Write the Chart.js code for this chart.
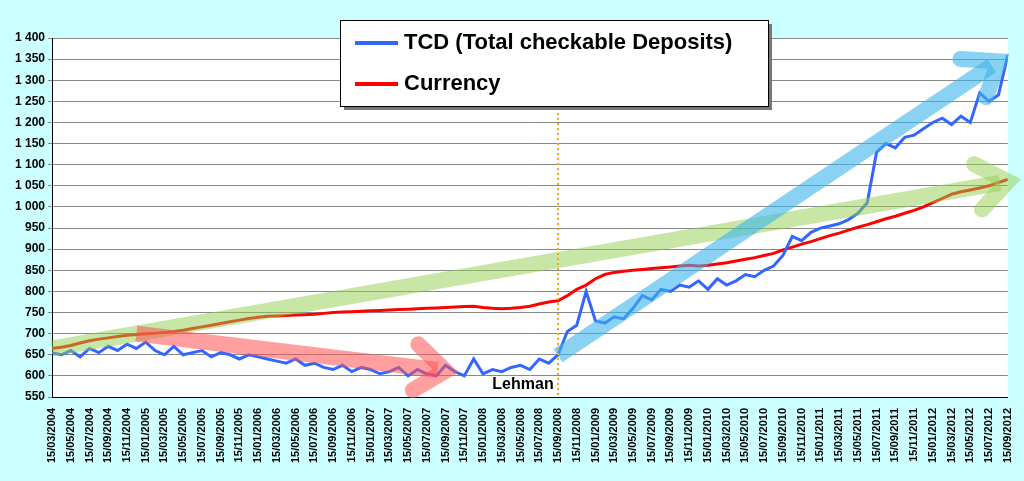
<!DOCTYPE html>
<html>
<head>
<meta charset="utf-8">
<script src="https://cdn.jsdelivr.net/npm/chart.js@4/dist/chart.umd.min.js"></script>
<style>
  body { margin: 0; background: #ccffff; }
  #wrap { width: 1024px; height: 481px; }
</style>
</head>
<body>
<div id="wrap"><canvas id="chart"></canvas></div>
<script>
// monthly values, index 0 = 15/03/2004
const tcd = [
  655,650,660,645,665,655,670,660,675,665,
  680,660,650,670,650,655,660,645,655,650,640,650,
  645,640,635,630,640,625,630,620,615,625,610,620,
  615,605,610,620,600,615,605,600,625,610,600,640,
  605,615,610,620,625,615,640,630,650,705,720,800,
  730,725,740,735,760,790,780,805,800,815,810,825,
  805,830,815,825,840,835,850,860,885,930,920,940,
  950,955,960,970,985,1010,1130,1150,1140,1165,1170,1185,
  1200,1210,1195,1215,1200,1270,1250,1265,1360
];
const currency = [
  665,668,672,678,683,687,690,693,696,698,
  700,701,703,705,708,712,716,720,724,728,732,736,
  739,741,742,743,744,745,746,748,750,751,752,753,
  754,755,756,757,758,759,760,761,762,763,764,765,
  762,760,759,760,762,765,770,775,778,790,805,815,
  830,840,845,848,850,852,854,856,858,860,862,860,
  862,865,868,872,876,880,885,890,898,905,912,918,
  925,932,938,945,952,958,965,972,978,985,992,1000,
  1010,1020,1030,1036,1040,1045,1050,1058,1065
];
const toPts = arr => arr.map((v, i) => ({ x: i, y: v }));

// trend arrows: [x1, y1, x2, y2, colour]
const arrows = [
  [0, 665, 102, 1060, 'rgba(146,208,80,0.5)'],
  [9, 700, 42, 612, 'rgba(255,80,80,0.55)'],
  [54, 648, 101, 1345, 'rgba(60,180,235,0.6)']
];
const lehman = 54;

function label(v) {
  const m = (v + 2) % 12 + 1;
  const y = 2004 + Math.floor((v + 2) / 12);
  return '15/' + (m < 10 ? '0' + m : m) + '/' + y;
}

const decor = {
  id: 'decor',
  beforeDraw(chart) {
    const { ctx, chartArea: a } = chart;
    ctx.save();
    ctx.fillStyle = '#fff';
    ctx.fillRect(a.left, a.top, a.right - a.left, a.bottom - a.top);
    ctx.restore();
  },
  afterDatasetsDraw(chart) {
    const { ctx, scales: { x, y } } = chart;
    ctx.save();
    arrows.forEach(([x1, y1, x2, y2, c]) => {
      const px1 = x.getPixelForValue(x1), py1 = y.getPixelForValue(y1);
      const px2 = x.getPixelForValue(x2), py2 = y.getPixelForValue(y2);
      const ang = Math.atan2(py2 - py1, px2 - px1);
      ctx.strokeStyle = c;
      ctx.lineWidth = 16;
      ctx.lineCap = 'butt';
      ctx.beginPath();
      ctx.moveTo(px1, py1);
      ctx.lineTo(px2 - 8 * Math.cos(ang), py2 - 8 * Math.sin(ang));
      ctx.stroke();
      ctx.lineCap = 'round';
      ctx.beginPath();
      ctx.moveTo(px2 - 38 * Math.cos(ang - 0.65), py2 - 38 * Math.sin(ang - 0.65));
      ctx.lineTo(px2, py2);
      ctx.lineTo(px2 - 38 * Math.cos(ang + 0.65), py2 - 38 * Math.sin(ang + 0.65));
      ctx.stroke();
    });
    // Lehman line
    const lx = x.getPixelForValue(lehman);
    ctx.strokeStyle = '#ffa500';
    ctx.lineWidth = 2;
    ctx.lineCap = 'butt';
    ctx.setLineDash([2, 3]);
    ctx.beginPath();
    ctx.moveTo(lx, chart.chartArea.top);
    ctx.lineTo(lx, chart.chartArea.bottom);
    ctx.stroke();
    ctx.setLineDash([]);
    ctx.fillStyle = '#000';
    ctx.font = 'bold 16px Arial, "Liberation Sans"';
    ctx.textAlign = 'center';
    ctx.fillText('Lehman', lx - 35, y.getPixelForValue(570));
    // legend box
    const bx = 340, by = 20, bw = 428, bh = 86;
    ctx.fillStyle = '#777';
    ctx.fillRect(bx + 4, by + 4, bw, bh);
    ctx.fillStyle = '#fff';
    ctx.fillRect(bx, by, bw, bh);
    ctx.strokeStyle = '#000';
    ctx.lineWidth = 1;
    ctx.strokeRect(bx + 0.5, by + 0.5, bw, bh);
    ctx.font = 'bold 22px Arial, "Liberation Sans"';
    ctx.textAlign = 'left';
    ctx.textBaseline = 'middle';
    [['TCD (Total checkable Deposits)', '#3366ff', 43], ['Currency', '#ff0000', 84]].forEach(([t, c, ly]) => {
      ctx.strokeStyle = c;
      ctx.lineWidth = 4;
      ctx.beginPath();
      ctx.moveTo(bx + 15, ly);
      ctx.lineTo(bx + 58, ly);
      ctx.stroke();
      ctx.fillStyle = '#000';
      ctx.fillText(t, bx + 64, ly);
    });
    ctx.restore();
  }
};

new Chart(document.getElementById('chart'), {
  type: 'line',
  data: {
    datasets: [
      { label: 'TCD (Total checkable Deposits)', data: toPts(tcd), borderColor: '#3366ff', borderWidth: 3, pointRadius: 0 },
      { label: 'Currency', data: toPts(currency), borderColor: '#ff0000', borderWidth: 3, pointRadius: 0 }
    ]
  },
  options: {
    responsive: true,
    maintainAspectRatio: false,
    animation: false,
    layout: { padding: { top: 38, right: 14, left: 0, bottom: 0 } },
    plugins: { legend: { display: false }, tooltip: { enabled: false } },
    scales: {
      x: {
        type: 'linear', min: 0, max: 102,
        afterFit: s => { s.height = 84; },
        grid: { display: false },
        border: { color: '#000', width: 1 },
        ticks: {
          stepSize: 2, autoSkip: false, minRotation: 90, maxRotation: 90,
          color: '#000', font: { family: 'Arial, "Liberation Sans"', size: 11, weight: 'bold' },
          callback: v => label(v)
        }
      },
      y: {
        min: 550, max: 1400,
        afterFit: s => { s.width = 52; },
        grid: { color: '#888', drawTicks: true, tickLength: 4 },
        border: { color: '#000', width: 1 },
        ticks: {
          stepSize: 50, color: '#000', padding: 3,
          font: { family: 'Arial, "Liberation Sans"', size: 12, weight: 'bold' },
          callback: v => v >= 1000 ? Math.floor(v / 1000) + ' ' + String(v % 1000).padStart(3, '0') : v
        }
      }
    }
  },
  plugins: [decor]
});
</script>
</body>
</html>
